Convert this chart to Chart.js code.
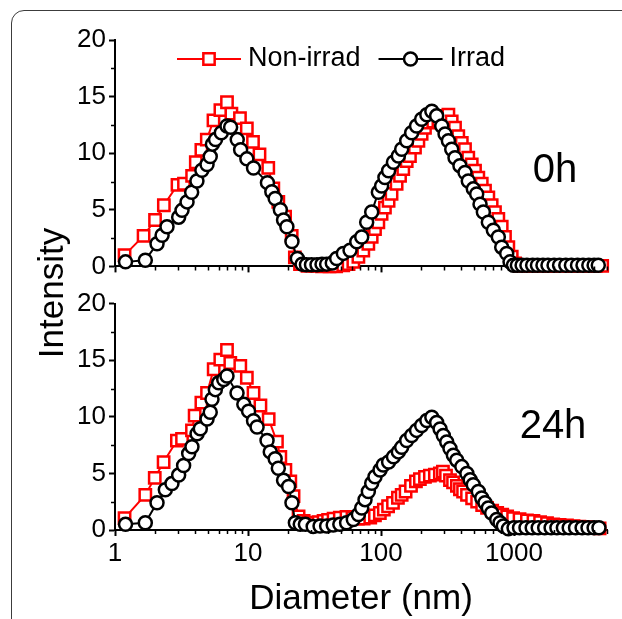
<!DOCTYPE html>
<html>
<head>
<meta charset="utf-8">
<title>Intensity vs Diameter</title>
<script src="https://cdn.jsdelivr.net/npm/chart.js@4.4.1/dist/chart.umd.min.js"></script>
<style>
html,body{margin:0;padding:0;background:#fff;}
#bild{position:relative;width:622px;height:619px;overflow:hidden;font-family:"Liberation Sans",Arial,sans-serif;}
#rahmen{position:absolute;left:11px;top:10px;width:700px;height:700px;border:1.5px solid #3c3c3c;border-radius:13px;}
#cOben{position:absolute;left:0;top:0;}
#cUnten{position:absolute;left:0;top:285px;}
#yTitel{position:absolute;left:-49px;top:273px;width:200px;height:40px;line-height:40px;text-align:center;font-size:35px;color:#000;transform:rotate(-90deg);}
</style>
</head>
<body>
<div id="bild">
  <div id="rahmen"></div>
  <canvas id="cOben" width="622" height="285"></canvas>
  <canvas id="cUnten" width="622" height="334"></canvas>
  <div id="yTitel">Intensity</div>
</div>
<script>
(function(){
'use strict';

var FONT = '"Liberation Sans", Arial, sans-serif';

// Achsen
var X_TICKS = [1, 10, 100, 1000];
var X_MINOR = [2,3,4,5,6,7,8,9, 20,30,40,50,60,70,80,90, 200,300,400,500,600,700,800,900, 2000,3000,4000,5000];
var Y_TICKS = [0, 5, 10, 15, 20];
var Y_MINOR = [2.5, 7.5, 12.5, 17.5];
var SERIEN = ['Non-irrad', 'Irrad'];

// 0h, Non-irrad
var d0hNon = [1.18,1.64,2.0,2.33,2.95,3.3,3.8,4.05,4.46,4.9,5.5,6.2,6.95,7.5,8.7,9.8,10.9,12.2,14.2,15.5,16.9,19.0,21.3,22.5,24.6,
  28,32,36,41,46,52,57,
  61.9,67.6,73.6,80.3,85.1,90.1,95.5,101,107,114,120,131,139,147,156,165,180,191,202,214,227,247,270,294,321,
  340,360,381,405,428,453,481,509,539,572,605,641,679,719,762,808,855,906,961,1018,
  1100,1250,1400,1600,1800,2000,2300,2600,2900,3300,3700,4150,4600];
var i0hNon = [1.0,2.7,4.1,5.4,7.2,7.3,8.0,9.2,10.3,11.2,12.9,13.8,14.5,13.5,13.1,12.2,11.0,9.9,8.7,6.9,5.7,4.4,2.7,0.8,0.2,
  0.05,0.05,0,0,0,0.1,0.2,
  0.4,0.85,1.4,2.0,2.6,3.3,3.9,4.65,5.2,5.8,6.4,7.3,8.0,8.6,9.3,9.75,10.5,11.1,11.7,12.25,12.7,12.8,13.0,13.3,13.4,
  12.8,12.25,11.5,10.9,10.35,9.6,9.0,8.45,7.85,7.3,6.7,6.1,5.4,4.8,4.2,3.5,2.6,1.7,0.85,0.26,
  0.05,0.05,0.05,0.05,0.05,0.05,0.05,0.05,0.05,0.05,0.05,0.05,0.05];

// 0h, Irrad
var d0hIrr = [1.2,1.69,2.07,2.26,2.46,3.01,3.19,3.48,3.77,4.13,4.5,4.92,5.2,5.4,5.7,6.3,6.95,7.4,8.3,8.8,9.8,11.0,14.0,15.1,16.0,17.5,18.5,19.6,21.4,23.5,
  25.5,27.5,30,33,36,39,43,
  46.4,52.1,58.5,65.7,71.6,78,85.1,95.5,101,107,114,124,135,143,156,170,185,202,221,241,
  262,286,303,321,340,360,392,428,453,494,524,555,588,641,699,762,808,881,933,989,
  1060,1150,1250,1380,1500,1650,1800,2000,2200,2450,2700,3000,3300,3650,4000,4300];
var i0hIrr = [0.4,0.55,2.0,2.75,3.5,4.35,4.95,5.7,6.55,7.55,8.5,9.0,9.7,10.8,11.2,11.8,12.4,12.3,11.2,10.3,9.5,8.7,7.4,6.6,6.0,5.0,4.1,3.5,2.2,0.7,
  0.2,0.15,0.15,0.15,0.2,0.2,0.3,
  0.7,1.15,1.43,2.17,2.6,3.9,4.8,6.55,7.1,7.85,8.45,9.2,9.75,10.35,11.1,11.8,12.4,13.0,13.4,13.7,
  13.3,12.4,11.7,11.1,10.35,9.6,8.9,8.3,7.55,6.85,6.4,5.5,4.8,3.9,3.2,2.6,1.7,1.15,0.4,0.1,
  0.1,0.1,0.1,0.1,0.1,0.1,0.1,0.1,0.1,0.1,0.1,0.1,0.1,0.1,0.1,0.1];

// 24h, Non-irrad
var d24hNon = [1.18,1.69,1.99,2.32,2.92,3.19,3.79,3.97,4.46,4.92,5.52,6.19,6.95,7.36,8.75,9.8,11.0,12.4,14.3,16.5,17.5,19.1,20.8,22.0,24.0,26.2,28.5,
  31,34,37,40,44,49,55,61,67,74,83,90,98,105,113,123,134,143,153,168,183,196,214,233,254,277,292,
  308,330,348,372,392,414,443,484,528,576,627,685,747,815,888,984,
  1100,1250,1400,1570,1770,1970,2200,2500,2800,3100,3500,3900,4400];
var i24hNon = [1.05,3.1,4.6,6.0,7.9,8.05,8.8,10.1,11.25,12.1,14.2,15.05,15.9,14.75,14.5,13.45,12.1,11.0,9.8,7.8,6.45,5.3,4.3,3.0,1.2,0.8,0.65,
  0.6,0.7,0.8,0.9,1.0,1.1,1.15,1.1,1.0,1.0,1.1,1.3,1.5,1.8,2.1,2.4,2.85,3.1,3.4,3.9,4.3,4.5,4.7,4.8,4.9,5.0,5.15,
  4.8,4.4,4.2,3.9,3.6,3.4,3.1,2.8,2.5,2.2,1.95,1.7,1.5,1.35,1.2,1.05,
  0.95,0.85,0.8,0.7,0.6,0.5,0.45,0.4,0.35,0.3,0.25,0.2,0.15];

// 24h, Irrad
var d24hIrr = [1.2,1.69,2.07,2.39,2.68,3.01,3.28,3.58,3.79,4.14,4.38,4.92,5.2,5.36,5.68,6.02,6.57,6.95,8.27,9.3,10.1,11.0,11.7,13.9,14.7,16.0,16.9,18.5,20.2,21.4,22.7,24.7,27,
  30.9,34.8,39.0,43.7,49.0,55.1,61.9,67.6,71.6,75.8,80.3,85.1,90.1,98.3,104,114,124,135,143,156,170,185,202,221,241,
  262,278,294,312,330,350,371,405,442,468,494,539,572,605,641,679,741,785,831,906,
  1000,1100,1230,1370,1520,1700,1900,2100,2350,2600,2900,3250,3600,4000,4350];
var i24hIrr = [0.5,0.64,2.4,3.55,4.1,4.85,5.7,6.75,7.35,8.5,8.95,9.8,10.4,11.55,12.4,13.0,13.3,13.6,12.1,11.1,10.5,9.65,9.1,7.9,6.9,6.3,5.45,4.4,3.85,2.4,0.64,0.5,0.5,
  0.3,0.35,0.35,0.44,0.5,0.64,0.93,1.37,1.95,2.68,3.4,4.13,4.7,5.3,5.74,6.0,6.46,6.9,7.3,7.9,8.35,8.8,9.23,9.67,9.96,
  9.5,8.93,8.35,7.77,7.2,6.6,6.17,5.6,5.0,4.43,4.0,3.4,2.82,2.4,1.95,1.5,0.93,0.64,0.35,0.1,
  0.2,0.2,0.2,0.2,0.2,0.2,0.2,0.2,0.2,0.2,0.2,0.2,0.2,0.2,0.2];

function punkte(d, v) {
  return d.map(function(x, k){ return {x:x, y:v[k]}; });
}

function serie(label, d, v, farbe, form, radius, order) {
  return {
    label: label,
    data: punkte(d, v),
    borderColor: farbe,
    borderWidth: 2,
    pointStyle: form,
    pointRadius: radius,
    pointHoverRadius: radius,
    pointBorderWidth: 2.5,
    pointBorderColor: farbe,
    pointBackgroundColor: '#fff',
    tension: 0,
    clip: false,
    order: order
  };
}

function marker(ctx, form, x, y, r, farbe) {
  ctx.save();
  ctx.lineWidth = 2.5;
  ctx.strokeStyle = farbe;
  ctx.fillStyle = '#fff';
  ctx.beginPath();
  if (form === 'rect') {
    var s = r * Math.SQRT1_2;
    ctx.rect(x - s, y - s, 2*s, 2*s);
  } else {
    ctx.arc(x, y, r, 0, Math.PI*2);
  }
  ctx.fill();
  ctx.stroke();
  ctx.restore();
}

var kleineStriche = {
  id: 'kleineStriche',
  afterDraw: function(chart){
    var ctx = chart.ctx, a = chart.chartArea, xs = chart.scales.x, ys = chart.scales.y;
    ctx.save();
    ctx.strokeStyle = '#000';
    ctx.lineWidth = 1.5;
    ctx.beginPath();
    Y_MINOR.forEach(function(v){
      var py = Math.round(ys.getPixelForValue(v)) + 0.5;
      ctx.moveTo(a.left - 4, py); ctx.lineTo(a.left, py);
    });
    X_MINOR.forEach(function(v){
      var px = Math.round(xs.getPixelForValue(v)) + 0.5;
      ctx.moveTo(px, a.bottom); ctx.lineTo(px, a.bottom + 4);
    });
    ctx.stroke();
    ctx.restore();
  }
};

var legendeInnen = {
  id: 'legendeInnen',
  afterDraw: function(chart, args, opt){
    if (!opt.zeigen) return;
    var ctx = chart.ctx, x = opt.x, y = opt.y;
    ctx.save();
    ctx.font = opt.groesse + 'px ' + FONT;
    ctx.textBaseline = 'middle';
    ctx.textAlign = 'left';
    SERIEN.forEach(function(name){
      var ds = chart.data.datasets.filter(function(d){ return d.label === name; })[0];
      ctx.strokeStyle = ds.borderColor;
      ctx.lineWidth = 2;
      ctx.beginPath(); ctx.moveTo(x, y); ctx.lineTo(x + 64, y); ctx.stroke();
      marker(ctx, ds.pointStyle, x + 32, y, ds.pointRadius, ds.borderColor);
      ctx.fillStyle = '#000';
      ctx.fillText(name, x + 71, y);
      x += 71 + ctx.measureText(name).width + 18;
    });
    ctx.restore();
  }
};

var panelText = {
  id: 'panelText',
  afterDraw: function(chart, args, opt){
    var ctx = chart.ctx;
    ctx.save();
    ctx.font = '40px ' + FONT;
    ctx.fillStyle = '#000';
    ctx.textAlign = 'center';
    ctx.textBaseline = 'alphabetic';
    ctx.fillText(opt.text, opt.x, opt.y);
    ctx.restore();
  }
};

function achsenGitter() {
  return {drawOnChartArea:false, drawTicks:true, tickLength:6, tickWidth:2, tickColor:'#000'};
}

function panel(canvasId, datasets, cfg) {
  return new Chart(document.getElementById(canvasId), {
    type: 'line',
    data: {datasets: datasets},
    options: {
      responsive: false,
      animation: false,
      devicePixelRatio: 1,
      events: [],
      layout: {padding: {top: cfg.oben, right: 15, bottom: 0, left: 0}},
      plugins: {
        legend: {display: false},
        tooltip: {enabled: false},
        legendeInnen: {zeigen: cfg.legende, x: 177, y: 59, groesse: 27},
        panelText: {text: cfg.text, x: cfg.textX, y: cfg.textY}
      },
      scales: {
        x: {
          type: 'logarithmic',
          min: 1,
          max: 5000,
          afterBuildTicks: function(s){ s.ticks = X_TICKS.map(function(v){ return {value:v}; }); },
          afterFit: function(s){ s.height = cfg.xHoehe; },
          grid: achsenGitter(),
          border: {display:true, color:'#000', width:2},
          ticks: {
            display: cfg.xLabels, color:'#000', font:{family:FONT, size:26}, padding:2,
            maxRotation:0, autoSkip:false,
            callback: function(v){ return String(v); }
          },
          title: {
            display: cfg.xLabels, text: 'Diameter (nm)', color:'#000',
            font: {family:FONT, size:35, lineHeight:1}, padding: {top:0, bottom:2}
          }
        },
        y: {
          min: 0,
          max: 20,
          afterBuildTicks: function(s){ s.ticks = Y_TICKS.map(function(v){ return {value:v}; }); },
          afterFit: function(s){ s.width = 115; },
          grid: achsenGitter(),
          border: {display:true, color:'#000', width:2},
          ticks: {color:'#000', font:{family:FONT, size:26}, padding:3}
        }
      }
    },
    plugins: [kleineStriche, legendeInnen, panelText]
  });
}

panel('cOben', [
  serie('Irrad', d0hIrr, i0hIrr, '#000000', 'circle', 6.5, 0),
  serie('Non-irrad', d0hNon, i0hNon, '#ff0000', 'rect', 8, 1)
], {oben: 40, xHoehe: 17, xLabels: false, legende: true, text: '0h', textX: 555, textY: 182});

panel('cUnten', [
  serie('Irrad', d24hIrr, i24hIrr, '#000000', 'circle', 6.5, 0),
  serie('Non-irrad', d24hNon, i24hNon, '#ff0000', 'rect', 8, 1)
], {oben: 15, xHoehe: 89, xLabels: true, legende: false, text: '24h', textX: 553, textY: 153});

})();
</script>
</body>
</html>
